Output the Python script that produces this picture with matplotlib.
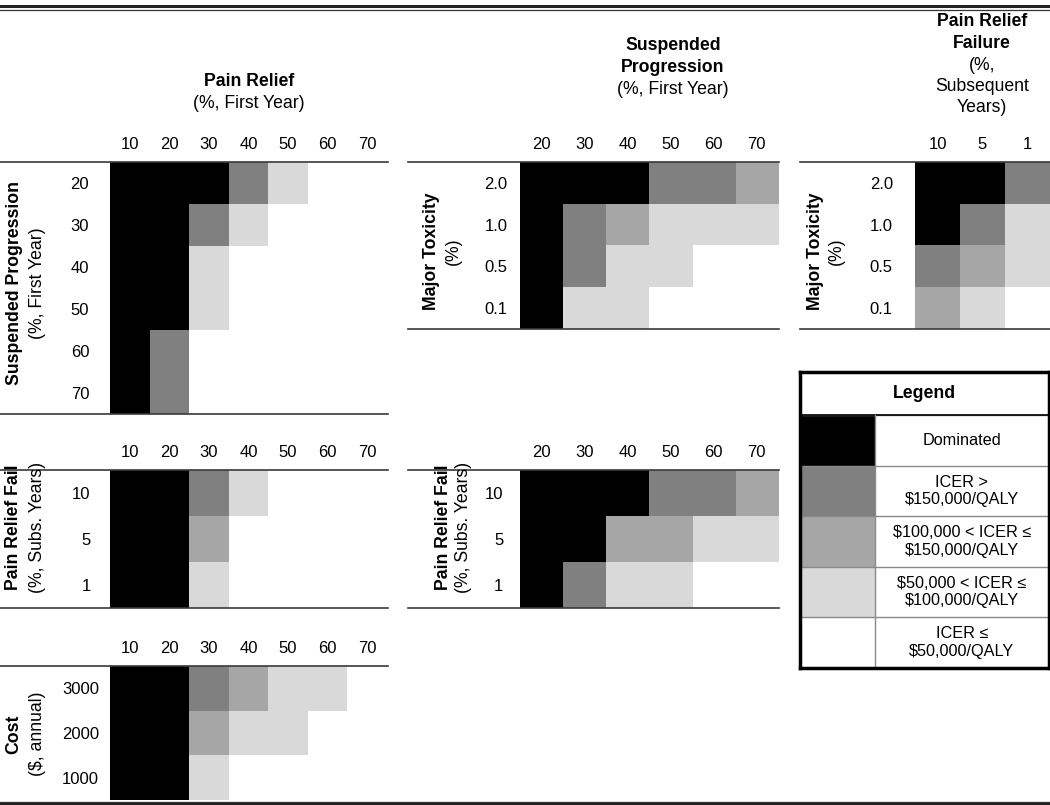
import numpy as np
import matplotlib
matplotlib.use("Agg")
from matplotlib import pyplot as plt
from matplotlib.colors import ListedColormap, BoundaryNorm
from matplotlib.lines import Line2D

plt.rcParams['font.family'] = ['Liberation Sans', 'DejaVu Sans']

# category codes: 4 dominated, 3 ICER>150k, 2 100k-150k, 1 50k-100k, 0 <=50k
pain_relief = ['10', '20', '30', '40', '50', '60', '70']
susp_prog = ['20', '30', '40', '50', '60', '70']
major_tox = ['2.0', '1.0', '0.5', '0.1']
relief_fail = ['10', '5', '1']
cost = ['3000', '2000', '1000']

sp_vs_pr = [[4, 4, 4, 3, 1, 0, 0],
            [4, 4, 3, 1, 0, 0, 0],
            [4, 4, 1, 0, 0, 0, 0],
            [4, 4, 1, 0, 0, 0, 0],
            [4, 3, 0, 0, 0, 0, 0],
            [4, 3, 0, 0, 0, 0, 0]]
tox_vs_sp = [[4, 4, 4, 3, 3, 2],
             [4, 3, 2, 1, 1, 1],
             [4, 3, 1, 1, 0, 0],
             [4, 1, 1, 0, 0, 0]]
tox_vs_prf = [[4, 4, 3],
              [4, 3, 1],
              [3, 2, 1],
              [2, 1, 0]]
prf_vs_pr = [[4, 4, 3, 1, 0, 0, 0],
             [4, 4, 2, 0, 0, 0, 0],
             [4, 4, 1, 0, 0, 0, 0]]
prf_vs_sp = [[4, 4, 4, 3, 3, 2],
             [4, 4, 2, 2, 1, 1],
             [4, 3, 1, 1, 0, 0]]
cost_vs_pr = [[4, 4, 3, 2, 1, 1, 0],
              [4, 4, 2, 1, 1, 0, 0],
              [4, 4, 1, 0, 0, 0, 0]]

legend_codes = [4, 3, 2, 1, 0]
legend_labels = ['Dominated', 'ICER >\n$150,000/QALY',
                 '$100,000 < ICER ≤\n$150,000/QALY',
                 '$50,000 < ICER ≤\n$100,000/QALY',
                 'ICER ≤\n$50,000/QALY']

farben = ['#ffffff', '#d9d9d9', '#a6a6a6', '#808080', '#000000']
cmap = ListedColormap(farben)
norm = BoundaryNorm([-0.5, 0.5, 1.5, 2.5, 3.5, 4.5], cmap.N)

W, H = 1050, 805
fig = plt.figure(figsize=(W / 100, H / 100), dpi=100)

FS_TICK = 12
FS_TXT = 12.7


def rect(x0, y0, x1, y1):
    return [x0 / W, 1 - y1 / H, (x1 - x0) / W, (y1 - y0) / H]


def hline(x0, x1, y, lw=1.2, c='#3a3a3a'):
    fig.add_artist(Line2D([x0 / W, x1 / W], [1 - y / H, 1 - y / H],
                          transform=fig.transFigure, color=c, lw=lw))


def panel(grid, cols, rows, box, line_x0, row_pad, bottom_line=True):
    x0, y0, x1, y1 = box
    ax = fig.add_axes(rect(x0, y0, x1, y1))
    ax.imshow(np.array(grid), cmap=cmap, norm=norm, aspect='auto',
              interpolation='nearest')
    ax.set_xticks(range(len(cols)))
    ax.set_xticklabels(cols, fontsize=FS_TICK)
    ax.set_yticks(range(len(rows)))
    ax.set_yticklabels(rows, fontsize=FS_TICK)
    ax.xaxis.tick_top()
    ax.tick_params(axis='x', length=0, pad=7)
    ax.tick_params(axis='y', length=0, pad=row_pad)
    for s in ax.spines.values():
        s.set_visible(False)
    hline(line_x0, x1 + 1, y0)
    if bottom_line:
        hline(line_x0, x1 + 1, y1)
    return ax


def ylab(x_bold, x_norm, yc, bold, normal):
    fig.text(x_bold / W, 1 - yc / H, bold, rotation=90, fontsize=FS_TXT,
             fontweight='bold', ha='center', va='center')
    fig.text(x_norm / W, 1 - yc / H, normal, rotation=90, fontsize=FS_TXT,
             ha='center', va='center')


def titlu(xc, y_first, bold_lines, normal_lines):
    y = y_first
    for t in bold_lines:
        fig.text(xc / W, 1 - y / H, t, fontsize=FS_TXT, fontweight='bold',
                 ha='center', va='center')
        y += 21.5
    for t in normal_lines:
        fig.text(xc / W, 1 - y / H, t, fontsize=FS_TXT, ha='center', va='center')
        y += 21.5


# panels
panel(sp_vs_pr, pain_relief, susp_prog, (110, 162, 387, 414), 0, 15)
panel(tox_vs_sp, susp_prog, major_tox, (520, 162, 778, 329), 408, 9)
panel(tox_vs_prf, relief_fail, major_tox, (915, 162, 1050, 329), 800, 16)
panel(prf_vs_pr, pain_relief, relief_fail, (110, 470, 387, 608), 0, 14)
panel(prf_vs_sp, susp_prog, relief_fail, (520, 470, 778, 608), 408, 12)
panel(cost_vs_pr, pain_relief, cost, (110, 666, 387, 800), 0, 8, bottom_line=False)

# titles
titlu(249, 82, ['Pain Relief'], ['(%, First Year)'])
titlu(673, 46, ['Suspended', 'Progression'], ['(%, First Year)'])
titlu(982, 22, ['Pain Relief', 'Failure'], ['(%,', 'Subsequent', 'Years)'])

# axis labels
ylab(15, 38, 283, 'Suspended Progression', '(%, First Year)')
ylab(432, 453, 251, 'Major Toxicity', '(%)')
ylab(815, 836, 251, 'Major Toxicity', '(%)')
ylab(14, 37, 527, 'Pain Relief Fail', '(%, Subs. Years)')
ylab(443, 464, 527, 'Pain Relief Fail', '(%, Subs. Years)')
ylab(14, 37, 734, 'Cost', '($, annual)')

# legend
lg = fig.add_axes(rect(800, 372, 1049, 668))
n = len(legend_codes)
hdr = 43 / (668 - 372)
row_h = (1 - hdr) / n
edges = 1 - hdr - row_h * np.arange(n + 1)
lg.pcolormesh([0, 0.3], edges[::-1], np.array(legend_codes)[::-1].reshape(-1, 1),
              cmap=cmap, norm=norm, antialiased=False)
for i, lab in enumerate(legend_labels):
    yc = (edges[i] + edges[i + 1]) / 2
    lg.text(0.65, yc, lab, ha='center', va='center', fontsize=11.7,
            linespacing=1.2)
    lg.axhline(edges[i], color='#8a8a8a', lw=1)
lg.axhline(1 - hdr, color='#000000', lw=1.2)
lg.axvline(0.3, ymax=1 - hdr, color='#8a8a8a', lw=1)
lg.text(0.5, 1 - hdr / 2, 'Legend', ha='center', va='center', fontsize=FS_TXT,
        fontweight='bold')
lg.set_xlim(0, 1)
lg.set_ylim(0, 1)
lg.set_xticks([])
lg.set_yticks([])
for s in lg.spines.values():
    s.set_linewidth(2.5)
    s.set_color('#000000')

# double rules top and bottom
hline(0, W, 6.5, lw=2.2, c='#222222')
hline(0, W, 9.8, lw=0.9, c='#333333')
hline(0, W, 801.5, lw=0.9, c='#333333')
hline(0, W, 804, lw=2.2, c='#222222')

fig.savefig('out.png', dpi=100)
